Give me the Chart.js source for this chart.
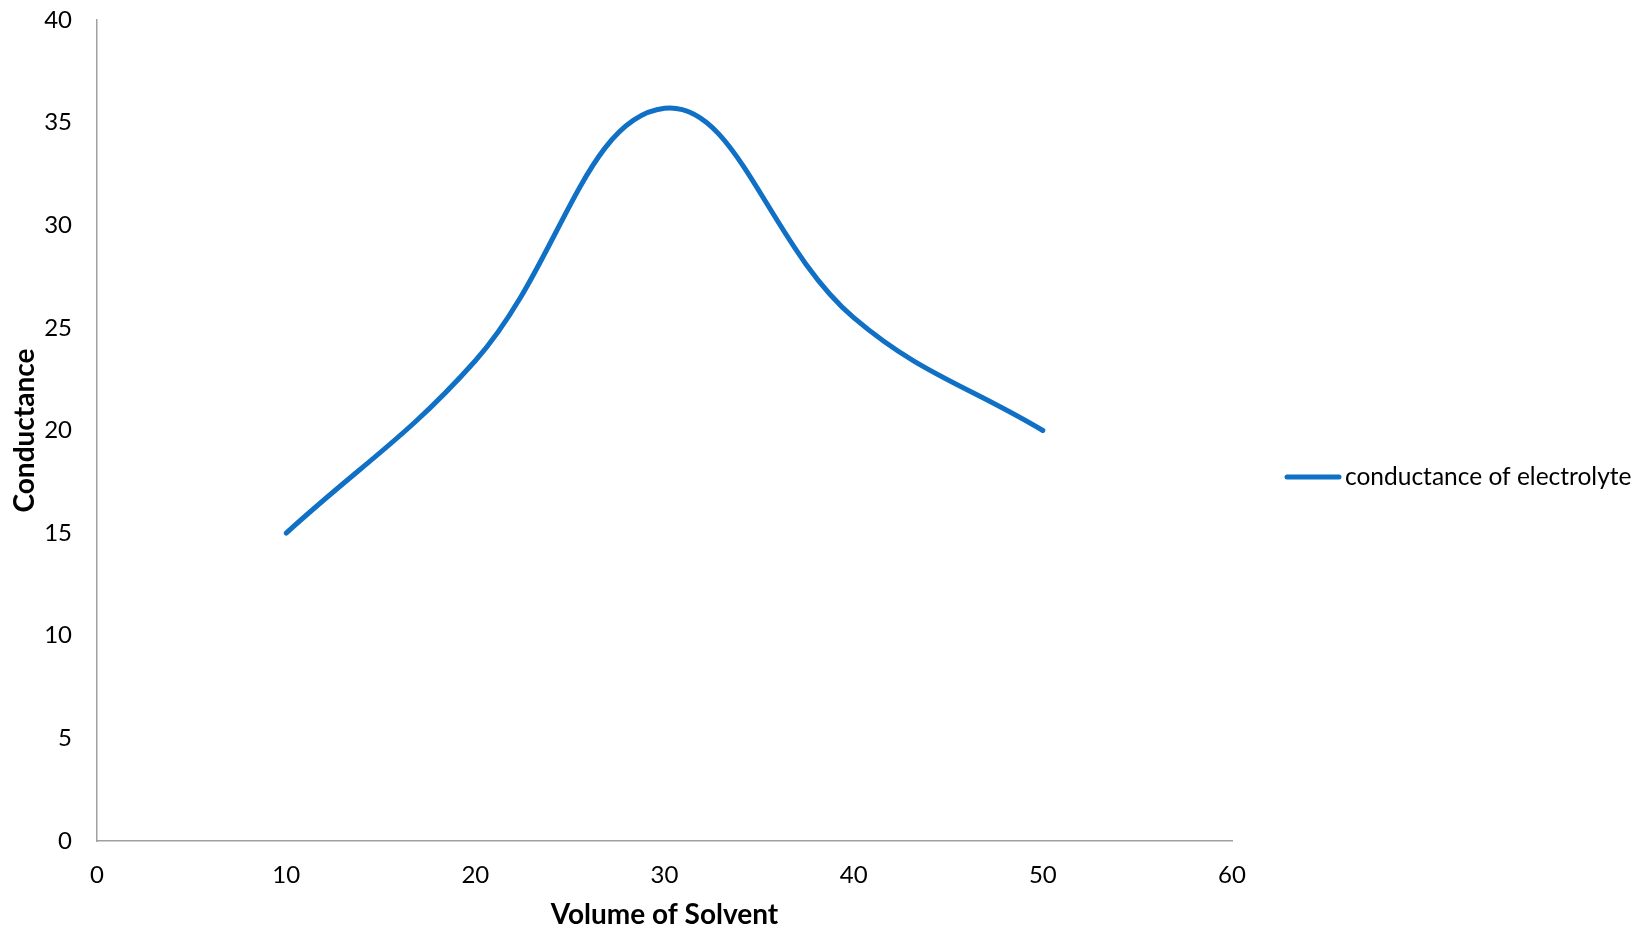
<!DOCTYPE html>
<html>
<head>
<meta charset="utf-8">
<title>Conductance of electrolyte</title>
<script src="https://cdn.jsdelivr.net/npm/chart.js@4/dist/chart.umd.min.js"></script>
<style>
    html, body { margin: 0; padding: 0; background: #fff; }
    #wrap { width: 1639px; height: 928px; }
</style>
</head>
<body>
<div id="wrap"><canvas id="chart" width="1639" height="928"></canvas></div>
<script>
// 資料
const volumes = [10, 20, 30, 40, 50];
const conductance = [15, 23.4, 35.7, 25.5, 20];
const seriesName = 'conductance of electrolyte';
const xTitle = 'Volume of Solvent';
const yTitle = 'Conductance';

const FONT = 'Lato, "Open Sans", sans-serif';
const lineColor = '#1070C6';
const axisColor = '#A0A0A0';

// 右側圖例（仿 Excel 位置）
const sideLegend = {
    id: 'sideLegend',
    afterDraw(chart) {
        const { ctx, chartArea } = chart;
        const ds = chart.data.datasets[0];
        const y = chart.height / 2 + 13;
        const x0 = chartArea.right + 55;
        ctx.save();
        ctx.strokeStyle = ds.borderColor;
        ctx.lineWidth = 5;
        ctx.lineCap = 'round';
        ctx.beginPath();
        ctx.moveTo(x0, y);
        ctx.lineTo(x0 + 52, y);
        ctx.stroke();
        ctx.fillStyle = '#000';
        ctx.font = '24.5px ' + FONT;
        ctx.textBaseline = 'middle';
        ctx.fillText(ds.label, x0 + 58, y);
        ctx.restore();
    }
};

new Chart(document.getElementById('chart').getContext('2d'), {
    type: 'line',
    data: {
        datasets: [{
            label: seriesName,
            data: volumes.map((v, i) => ({ x: v, y: conductance[i] })),
            borderColor: lineColor,
            backgroundColor: lineColor,
            borderWidth: 5,
            borderCapStyle: 'round',
            tension: 0.4,
            pointRadius: 0,
            fill: false
        }]
    },
    options: {
        responsive: false,
        animation: false,
        layout: {
            padding: { top: 0, right: 407, left: 0, bottom: 0 }
        },
        plugins: {
            legend: { display: false },
            tooltip: { enabled: false }
        },
        scales: {
            x: {
                type: 'linear',
                min: 0,
                max: 60,
                afterFit: (s) => { s.height = 87; },
                ticks: {
                    stepSize: 10,
                    color: '#000',
                    padding: 20,
                    maxRotation: 0,
                    font: { family: FONT, size: 24 }
                },
                grid: { display: true, drawOnChartArea: false, drawTicks: false },
                border: { display: true, color: axisColor, width: 1.5 },
                title: {
                    display: true,
                    text: xTitle,
                    color: '#000',
                    padding: { top: 0, bottom: -4 },
                    font: { family: FONT, size: 28, weight: 'bold' }
                }
            },
            y: {
                min: 0,
                max: 40,
                afterFit: (s) => { s.width = 97; s.paddingTop = 20; },
                ticks: {
                    stepSize: 5,
                    color: '#000',
                    padding: 25,
                    font: { family: FONT, size: 24 }
                },
                grid: { display: true, drawOnChartArea: false, drawTicks: false },
                border: { display: true, color: axisColor, width: 1.5 },
                title: {
                    display: true,
                    text: yTitle,
                    color: '#000',
                    padding: { top: 8, bottom: 0 },
                    font: { family: FONT, size: 28, weight: 'bold' }
                }
            }
        }
    },
    plugins: [sideLegend]
});
</script>
</body>
</html>
